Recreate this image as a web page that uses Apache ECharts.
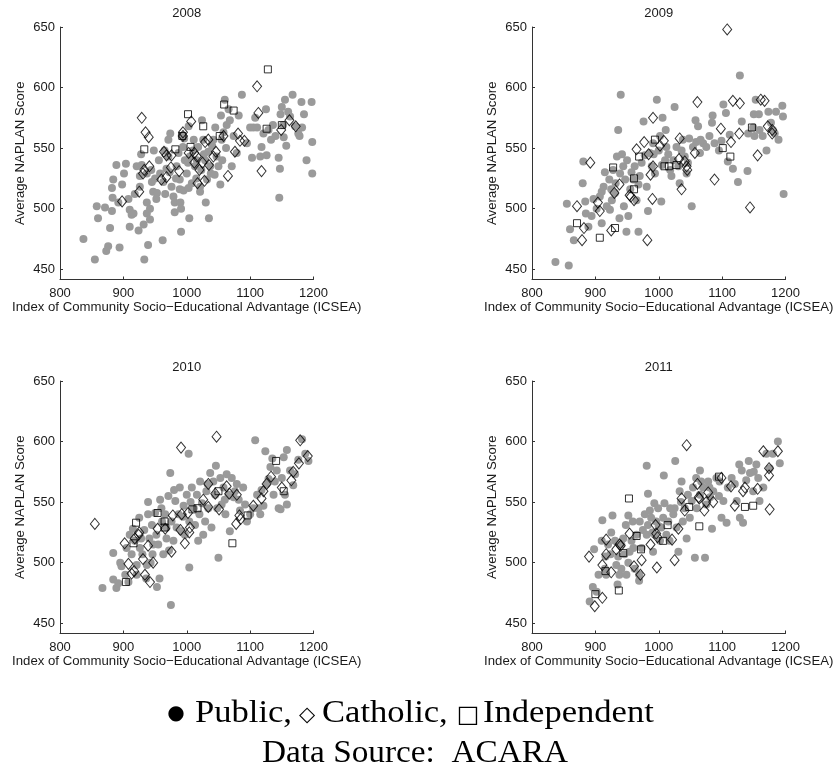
<!DOCTYPE html>
<html>
<head>
<meta charset="utf-8">
<script src="https://cdn.jsdelivr.net/npm/echarts@6/dist/echarts.min.js"></script>
<style>
  html, body { margin: 0; padding: 0; background: #fff; }
  #chart { width: 837px; height: 772px; }
</style>
</head>
<body>
<div id="chart"></div>
<script>
// Panel years and axis tick values
const years = ['2008', '2009', '2010', '2011'];
const xTicks = [800, 900, 1000, 1100, 1200];
const yTicks = [450, 500, 550, 600, 650];

// School results: [ICSEA, average NAPLAN score]
const public2008 = [[837,475],[855,458],[858,502],[860,492],[871,501],[873,465],[876,469],[879,484],[882,498],[883,509],[882,517],[884,524],[889,536],[894,468],[901,529],[904,537],[908,508],[910,499],[913,495],[910,485],[916,496],[921,535],[924,482],[926,527],[926,518],[929,536],[932,487],[933,458],[937,505],[937,496],[937,529],[939,470],[942,500],[942,491],[945,522],[947,514],[953,513],[950,525],[958,529],[962,474],[963,522],[968,533],[971,557],[971,543],[974,562],[976,518],[979,510],[981,505],[981,497],[984,535],[987,546],[989,524],[989,516],[990,505],[991,500],[991,481],[994,551],[992,560],[997,540],[1000,529],[1003,568],[1004,492],[1005,543],[1008,521],[1011,557],[1013,535],[1016,540],[1018,551],[1021,518],[1021,514],[1024,573],[1026,557],[1029,540],[1032,524],[1034,547],[1037,535],[1038,529],[1035,492],[1042,557],[1045,567],[1047,543],[1050,535],[1053,520],[1054,577],[1055,557],[1060,590],[1063,569],[1066,582],[1068,573],[1071,535],[1074,560],[1079,546],[1087,594],[1095,554],[1100,567],[1103,542],[1105,567],[1111,567],[1116,543],[1118,551],[1121,562],[1125,582],[1126,544],[1129,565],[1133,557],[1136,569],[1145,542],[1146,509],[1147,533],[1148,578],[1150,584],[1152,569],[1153,559],[1155,590],[1157,552],[1163,576],[1167,594],[1171,568],[1176,562],[1178,560],[1181,588],[1182,567],[1189,540],[1197,588],[1198,555],[1198,529],[918,512],[928,545],[944,532],[952,508],[956,540],[966,512],[973,530],[983,525],[995,515],[1002,538],[1010,548],[1015,525],[1027,545],[1040,552],[1044,528],[1058,563],[1062,550],[1082,577],[1108,575],[1140,560],[1160,580],[1185,578],[948,548],[996,558],[1023,532],[898,520],[892,505],[965,548],[1003,517],[1030,505],[1056,540]];
const catholic2008 = [[929,575],[935,563],[940,559],[933,532],[941,535],[931,529],[925,514],[898,506],[960,524],[964,547],[968,544],[968,526],[976,544],[975,534],[988,531],[994,563],[994,560],[1007,572],[1003,546],[1012,546],[1012,538],[1016,543],[1017,521],[1020,532],[1025,538],[1028,523],[1029,555],[1034,557],[1035,536],[1042,543],[1046,547],[1058,560],[1065,527],[1076,547],[1081,562],[1084,556],[1091,556],[1111,601],[1113,579],[1118,531],[1149,565],[1162,573],[1172,568]];
const independent2008 = [[933,549],[1002,578],[993,560],[1006,551],[982,549],[1026,568],[1059,586],[1074,581],[1052,560],[1128,615],[1126,566],[1150,569]];

const public2009 = [[837,456],[858,453],[855,504],[860,483],[866,474],[881,539],[880,521],[884,506],[885,496],[889,485],[894,494],[897,508],[902,500],[907,510],[910,514],[910,488],[913,518],[918,502],[922,524],[923,499],[926,507],[928,532],[931,513],[934,543],[936,565],[938,492],[939,529],[940,594],[942,545],[944,535],[945,502],[947,524],[949,481],[952,494],[955,516],[960,524],[962,535],[965,507],[968,481],[970,527],[973,538],[976,572],[981,518],[983,498],[986,546],[989,535],[991,554],[994,529],[997,590],[1002,560],[1004,506],[1006,575],[1010,540],[1011,565],[1012,551],[1018,532],[1023,540],[1025,584],[1028,551],[1031,535],[1033,521],[1038,557],[1041,543],[1044,529],[1052,502],[1054,551],[1058,573],[1059,555],[1062,568],[1065,546],[1070,554],[1075,551],[1084,571],[1085,577],[1088,554],[1099,556],[1102,586],[1106,579],[1109,539],[1112,561],[1117,533],[1125,522],[1128,610],[1131,572],[1140,531],[1141,562],[1149,567],[1150,578],[1151,560],[1153,590],[1159,565],[1164,560],[1170,548],[1173,580],[1177,571],[1180,565],[1183,562],[1189,557],[1195,585],[1196,576],[1197,512],[915,530],[925,516],[950,540],[957,530],[978,544],[992,545],[1000,548],[1015,545],[1020,527],[1036,548],[1048,558],[1066,557],[1080,560],[1095,548],[1158,578],[1185,580],[932,521],[968,520],[1005,536],[1046,538]];
const catholic2009 = [[871,502],[879,474],[882,484],[892,538],[904,505],[907,498],[925,482],[930,513],[938,520],[954,511],[956,510],[961,507],[965,549],[977,555],[984,545],[987,528],[991,575],[991,535],[990,508],[982,474],[1002,552],[1008,556],[1033,558],[1032,541],[1036,516],[1041,539],[1045,532],[1044,535],[1057,546],[1061,588],[1088,524],[1098,566],[1108,648],[1114,555],[1117,589],[1127,562],[1128,587],[1144,501],[1156,544],[1161,590],[1167,589],[1172,568],[1179,565],[1179,562]];
const independent2009 = [[871,488],[907,476],[928,534],[931,484],[961,525],[961,516],[969,543],[994,557],[1009,535],[1016,535],[1028,536],[1101,550],[1113,543],[1147,567]];

const public2010 = [[867,479],[884,508],[884,486],[889,479],[892,483],[897,497],[903,490],[908,484],[910,523],[913,507],[915,528],[918,518],[921,498],[921,490],[925,537],[926,512],[930,507],[933,527],[936,487],[937,498],[939,550],[939,540],[941,520],[945,531],[946,507],[947,515],[950,541],[952,523],[953,480],[957,487],[958,552],[961,534],[963,507],[966,540],[968,529],[968,520],[971,555],[974,574],[975,465],[976,534],[979,518],[982,551],[984,529],[987,540],[989,562],[992,526],[995,547],[997,523],[1000,556],[1003,590],[1004,534],[1004,496],[1008,562],[1011,545],[1013,531],[1016,556],[1018,518],[1021,567],[1024,549],[1026,523],[1029,534],[1031,559],[1034,545],[1037,574],[1039,529],[1042,567],[1045,556],[1046,580],[1050,504],[1053,570],[1055,548],[1058,562],[1061,540],[1063,573],[1066,556],[1068,526],[1071,570],[1074,554],[1076,559],[1079,565],[1084,543],[1089,562],[1095,534],[1100,540],[1108,601],[1111,556],[1113,545],[1116,540],[1121,547],[1124,592],[1126,565],[1129,569],[1132,579],[1137,556],[1139,567],[1142,576],[1145,545],[1148,544],[1153,587],[1155,556],[1158,548],[1158,593],[1163,576],[1168,564],[1171,573],[1176,585],[1182,602],[1187,590],[1192,584],[895,500],[905,512],[928,520],[943,500],[955,515],[960,545],[972,510],[980,560],[994,538],[1006,550],[1020,540],[1033,565],[1048,545],[1060,552],[1082,552],[1092,548],[1105,545],[1118,560],[1135,586],[1150,570]];
const catholic2010 = [[855,532],[902,516],[908,499],[913,491],[917,493],[918,520],[924,523],[925,525],[931,503],[934,490],[939,514],[942,484],[947,500],[954,528],[966,528],[976,509],[978,539],[991,595],[990,527],[992,540],[997,516],[1002,541],[1004,525],[1005,529],[1026,552],[1034,546],[1034,565],[1045,557],[1047,604],[1051,544],[1063,563],[1067,557],[1079,556],[1078,532],[1083,539],[1085,536],[1105,547],[1118,553],[1121,559],[1126,565],[1133,571],[1150,562],[1165,568],[1168,575],[1177,582],[1179,601],[1191,588]];
const independent2010 = [[904,484],[916,516],[920,533],[954,541],[965,534],[965,529],[1009,544],[1017,545],[1050,559],[1072,516],[1096,539],[1141,584],[1153,559]];

const public2011 = [[891,468],[896,480],[902,476],[898,511],[911,535],[910,518],[916,505],[915,495],[917,490],[924,507],[927,539],[931,518],[933,498],[935,482],[938,490],[941,515],[941,495],[944,520],[946,507],[948,531],[949,490],[952,539],[954,509],[957,518],[959,534],[962,495],[965,523],[969,490],[969,485],[970,534],[973,512],[975,527],[981,580],[983,557],[981,523],[983,531],[986,543],[988,537],[991,509],[993,549],[994,523],[996,534],[999,545],[1002,518],[1004,529],[1007,537],[1008,572],[1009,549],[1012,523],[1015,534],[1017,518],[1023,540],[1025,545],[1026,584],[1028,529],[1031,509],[1033,559],[1036,567],[1038,534],[1041,545],[1044,520],[1046,556],[1049,537],[1052,551],[1054,562],[1057,504],[1059,570],[1065,576],[1065,556],[1067,567],[1070,562],[1073,504],[1075,548],[1078,567],[1081,554],[1084,528],[1086,559],[1091,570],[1096,567],[1099,537],[1102,551],[1107,533],[1109,562],[1115,570],[1123,551],[1127,581],[1128,537],[1131,576],[1133,533],[1142,584],[1144,574],[1149,559],[1154,581],[1157,570],[1159,551],[1165,562],[1170,590],[1175,578],[1188,600],[1191,582],[905,490],[920,515],[925,525],[936,505],[952,500],[960,512],[978,540],[990,525],[1000,530],[1018,545],[1035,550],[1060,545],[1080,562],[1095,555],[1120,565],[1138,568],[1150,575],[1180,590]];
const catholic2011 = [[890,505],[899,464],[911,471],[911,498],[917,519],[917,507],[925,492],[933,511],[938,515],[940,514],[954,524],[961,497],[971,490],[973,502],[987,515],[995,531],[996,524],[998,521],[997,496],[1021,519],[1025,502],[1031,528],[1036,553],[1041,543],[1044,597],[1061,565],[1063,554],[1064,553],[1072,543],[1075,550],[1078,558],[1086,550],[1099,570],[1114,563],[1120,547],[1133,559],[1136,562],[1156,561],[1165,592],[1174,578],[1174,572],[1175,544],[1188,592]];
const independent2011 = [[900,474],[916,493],[937,477],[944,508],[953,553],[965,522],[972,511],[1007,518],[1014,531],[1048,546],[1064,530],[1095,571],[1136,546],[1149,547]];

const publicSets = [public2008, public2009, public2010, public2011];
const catholicSets = [catholic2008, catholic2009, catholic2010, catholic2011];
const independentSets = [independent2008, independent2009, independent2010, independent2011];

// Panel placement (2 x 2)
const panelLeft = [60, 532, 60, 532];
const panelTop = [27, 27, 381, 381];
const panelWidth = 253.5;
const panelHeight = 252.5;

const textColor = '#1a1a1a';
const axisColor = '#333';
const sansFont = '"Liberation Sans", Arial, Helvetica, sans-serif';
const serifFont = '"Liberation Serif", "Times New Roman", serif';
const symbolFont = '"DejaVu Sans", sans-serif';

const grids = [], xAxes = [], yAxes = [], titles = [], series = [];

years.forEach((yr, i) => {
  grids.push({ left: panelLeft[i], top: panelTop[i], width: panelWidth, height: panelHeight, containLabel: false });
  titles.push({
    text: yr,
    left: panelLeft[i] + panelWidth / 2,
    top: panelTop[i] - 20,
    padding: 0,
    textAlign: 'center',
    textStyle: { fontFamily: sansFont, fontSize: 13, fontWeight: 'normal', color: textColor }
  });
  xAxes.push({
    gridIndex: i, type: 'value', min: 800, max: 1200, interval: 100,
    name: 'Index of Community Socio\u2212Educational Advantage (ICSEA)',
    nameLocation: 'middle', nameGap: 21,
    nameTextStyle: { fontFamily: sansFont, fontSize: 13.2, color: textColor },
    axisLine: { show: true, onZero: false, lineStyle: { color: axisColor, width: 1 } },
    axisTick: { show: true, inside: true, length: 3, lineStyle: { color: axisColor } },
    axisLabel: { margin: 7, fontFamily: sansFont, fontSize: 13, color: textColor,
      customValues: xTicks, formatter: v => String(v) },
    splitLine: { show: false }
  });
  yAxes.push({
    gridIndex: i, type: 'value', min: 441.5, max: 650,
    name: 'Average NAPLAN Score',
    nameLocation: 'middle', nameGap: 33, nameRotate: 90,
    nameTextStyle: { fontFamily: sansFont, fontSize: 13.2, color: textColor },
    axisLine: { show: true, onZero: false, lineStyle: { color: axisColor, width: 1 } },
    axisTick: { show: true, inside: true, length: 3, lineStyle: { color: axisColor }, customValues: yTicks },
    axisLabel: { margin: 5, fontFamily: sansFont, fontSize: 13, color: textColor,
      customValues: yTicks, formatter: v => String(v) },
    splitLine: { show: false }
  });
  series.push({
    name: 'Public', type: 'scatter', xAxisIndex: i, yAxisIndex: i,
    data: publicSets[i], symbol: 'circle', symbolSize: 8,
    itemStyle: { color: '#9a9a9a', opacity: 1 }, z: 2, silent: true
  });
  series.push({
    name: 'Catholic', type: 'scatter', xAxisIndex: i, yAxisIndex: i,
    data: catholicSets[i], symbol: 'diamond', symbolSize: [9, 11],
    itemStyle: { color: 'rgba(255,255,255,0)', borderColor: '#000', borderWidth: 1 }, z: 3, silent: true
  });
  series.push({
    name: 'Independent', type: 'scatter', xAxisIndex: i, yAxisIndex: i,
    data: independentSets[i], symbol: 'rect', symbolSize: 7,
    itemStyle: { color: 'rgba(255,255,255,0)', borderColor: '#000', borderWidth: 1 }, z: 3, silent: true
  });
});

// Key line and source line under the panels (y is the bottom of each text box)
const keyBottom = 730;
const sourceBottom = 770;
const keyWord = (text, x) => ({
  type: 'text', x: x, y: keyBottom, scaleX: 1.08, originX: 0, originY: 0,
  style: { text: text, font: '32px ' + serifFont, fill: '#000', align: 'left', verticalAlign: 'bottom' }
});
const keySymbol = (text, x, y, size) => ({
  type: 'text', x: x, y: y,
  style: { text: text, font: size + 'px ' + symbolFont, fill: '#000', align: 'center', verticalAlign: 'middle' }
});

const chart = echarts.init(document.getElementById('chart'), null, { renderer: 'canvas' });
chart.setOption({
  animation: false,
  backgroundColor: '#fff',
  title: titles,
  grid: grids,
  xAxis: xAxes,
  yAxis: yAxes,
  series: series,
  graphic: [
    keySymbol('\u25CF', 176, 714, 20),
    keyWord('Public,', 195),
    keySymbol('\u25C7', 307, 716, 21),
    keyWord('Catholic,', 322),
    keySymbol('\u25A1', 468, 715.5, 24),
    keyWord('Independent', 483),
    { type: 'text', x: 415, y: sourceBottom, scaleX: 1.04, originX: 0, originY: 0,
      style: { text: 'Data Source:  ACARA', font: '32px ' + serifFont, fill: '#000', align: 'center', verticalAlign: 'bottom' } }
  ]
});
</script>
</body>
</html>
